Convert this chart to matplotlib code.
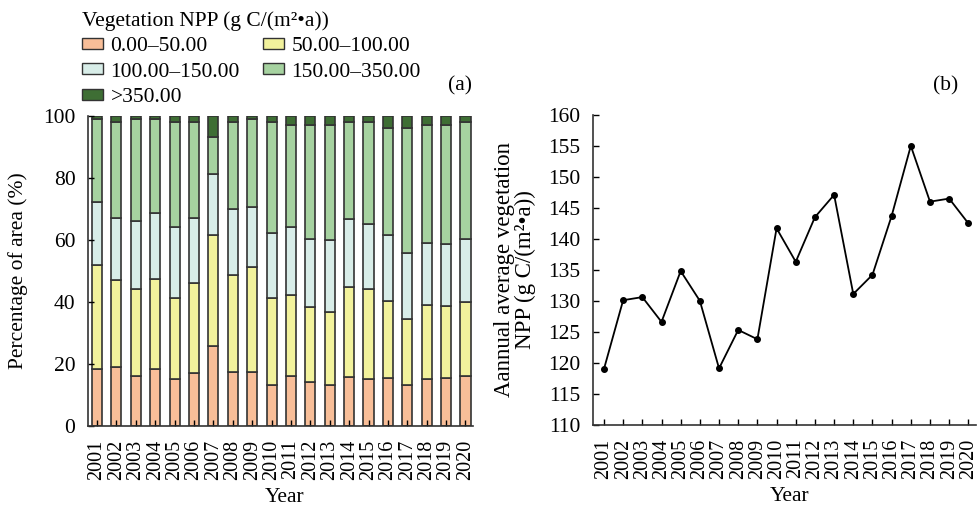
import matplotlib.pyplot as plt
from matplotlib.patches import Patch

plt.rcParams['font.family'] = ['Liberation Serif', 'DejaVu Serif']

years = [str(y) for y in range(2001, 2021)]

# share of area (%) per NPP class, one value per year
npp_0_50 = [18.2, 19.1, 16.1, 18.3, 15.1, 17.1, 25.8, 17.2, 17.4, 13.1,
            16.1, 14.2, 13.1, 15.9, 15.1, 15.3, 13.1, 15.1, 15.3, 16.1]
npp_50_100 = [33.8, 28.0, 28.0, 29.2, 26.0, 29.0, 35.7, 31.5, 33.7, 28.0,
              26.1, 24.0, 23.5, 28.8, 29.0, 25.1, 21.3, 24.0, 23.2, 23.9]
npp_100_150 = [20.3, 20.0, 22.0, 21.3, 23.1, 21.1, 19.9, 21.2, 19.4, 21.1,
               21.9, 22.0, 23.2, 21.9, 21.1, 21.3, 21.3, 20.0, 20.2, 20.2]
npp_150_350 = [26.7, 31.1, 32.9, 30.2, 34.0, 31.0, 11.7, 28.3, 28.5, 36.0,
               33.0, 36.9, 37.3, 31.6, 33.0, 34.3, 40.3, 38.0, 38.4, 38.0]
npp_gt_350 = [1.0, 1.8, 1.0, 1.0, 1.8, 1.8, 6.9, 1.8, 1.0, 1.8,
              2.9, 2.9, 2.9, 1.8, 1.8, 4.0, 4.0, 2.9, 2.9, 1.8]

# annual mean NPP, g C/(m2*a)
mean_npp = [119.0, 130.1, 130.6, 126.6, 134.8, 130.0, 119.1, 125.3, 123.8, 141.7,
            136.3, 143.5, 147.1, 131.1, 134.2, 143.7, 155.0, 146.0, 146.5, 142.5]

classes = ['0.00–50.00', '50.00–100.00', '100.00–150.00', '150.00–350.00', '>350.00']
colors = ['#F8BE98', '#F2F29C', '#D8EDE8', '#A6D2A0', '#3E6E34']
series = [npp_0_50, npp_50_100, npp_100_150, npp_150_350, npp_gt_350]

fig = plt.figure(figsize=(9.77, 5.13), dpi=100)
ax1 = fig.add_axes([0.090, 0.170, 0.394, 0.604])
ax2 = fig.add_axes([0.607, 0.172, 0.392, 0.604])

x = list(range(len(years)))
bottom = [0.0] * len(years)
for vals, col, lab in zip(series, colors, classes):
    ax1.bar(x, vals, width=0.52, bottom=bottom, color=col,
            edgecolor='#333333', linewidth=1.2, label=lab)
    bottom = [b + v for b, v in zip(bottom, vals)]

ax1.set_xlim(-0.47, 19.38)
ax1.set_ylim(0, 100)
ax1.set_xticks(x)
ax1.set_xticklabels(years, rotation=90, fontsize=14.5)
ax1.set_yticks(range(0, 101, 20))
ax1.tick_params(axis='y', labelsize=15.5, pad=9)
ax1.set_ylabel('Percentage of area (%)', fontsize=15.5)
ax1.yaxis.set_label_coords(-0.155, 0.5)
ax1.set_xlabel('Year', fontsize=15.5)
ax1.xaxis.set_label_coords(0.51, -0.2)

ax2.plot(x, mean_npp, color='black', linewidth=1.3, marker='o', markersize=4)
ax2.set_xlim(-0.57, 19.4)
ax2.set_ylim(110, 160)
ax2.set_xticks(x)
ax2.set_xticklabels(years, rotation=90, fontsize=14.5)
ax2.set_yticks(range(110, 161, 5))
ax2.tick_params(axis='y', labelsize=15.5, pad=9)
ax2.set_ylabel('Aannual average vegetation\nNPP (g C/(m²•a))', fontsize=16.5,
               linespacing=0.98)
ax2.yaxis.set_label_coords(-0.148, 0.5)
ax2.set_xlabel('Year', fontsize=15.5)
ax2.xaxis.set_label_coords(0.514, -0.2)

for ax in (ax1, ax2):
    for s in ('top', 'right'):
        ax.spines[s].set_visible(False)
    for s in ('left', 'bottom'):
        ax.spines[s].set_color('#333333')
        ax.spines[s].set_linewidth(1.2)
    ax.tick_params(direction='in', length=4, width=1)
    ax.tick_params(axis='x', pad=10)

handles = [Patch(facecolor=c, edgecolor='#333333', linewidth=1.0, label=l)
           for c, l in zip(colors, classes)]
order = [0, 2, 4, 1, 3]
fig.legend([handles[i] for i in order], [classes[i] for i in order],
           title='Vegetation NPP (g C/(m²•a))', title_fontsize=15.5, fontsize=15.5,
           ncol=2, loc='upper left', bbox_to_anchor=(0.068, 1.008), frameon=False,
           alignment='left', handlelength=1.0, handleheight=0.4, handletextpad=0.35,
           columnspacing=1.05, labelspacing=0.3, borderpad=0.2)

fig.text(0.471, 0.832, '(a)', fontsize=15.5, ha='center', va='center')
fig.text(0.968, 0.832, '(b)', fontsize=15.5, ha='center', va='center')

fig.savefig('out.png', dpi=100)
